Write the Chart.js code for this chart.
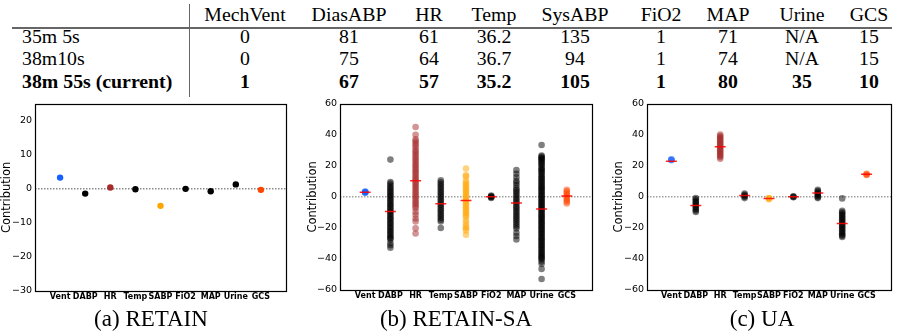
<!DOCTYPE html>
<html>
<head>
<meta charset="utf-8">
<script src="https://cdn.jsdelivr.net/npm/chart.js@4.4.1/dist/chart.umd.min.js"></script>
<style>
  body { margin:0; background:#fff; width:898px; height:332px; overflow:hidden; position:relative; }
  .cell, .cap { font-family:"Liberation Serif","Times New Roman",Times,serif; }
  .cell { position:absolute; font-size:18px; line-height:18px; white-space:nowrap; color:#000; transform-origin:0 0; transform:scaleX(1.1); }
  .mid { transform:translateX(-50%) scaleX(1.1); transform-origin:50% 0; }
  .bold { font-weight:bold; }
  .cap { position:absolute; font-size:23px; line-height:23px; white-space:nowrap; transform:translateX(-50%); color:#000; }
  .box { position:absolute; }
  .rule { position:absolute; background:#666; }
</style>
</head>
<body>
<div class="rule" style="left:189px;top:4px;width:1px;height:93px"></div>
<div class="rule" style="left:12px;top:27px;width:880px;height:1.5px"></div>
<div id="table"></div>

<div class="box" style="left:0px;top:95px"><canvas id="cA" width="296" height="215"></canvas></div>
<div class="box" style="left:306px;top:95px"><canvas id="cB" width="294" height="215"></canvas></div>
<div class="box" style="left:612px;top:95px"><canvas id="cC" width="286" height="215"></canvas></div>

<div class="cap" style="left:151px;top:307px">(a) RETAIN</div>
<div class="cap" style="left:456px;top:307px">(b) RETAIN-SA</div>
<div class="cap" style="left:762px;top:307px">(c) UA</div>

<script>
// ---- table data ----
const headers = ['MechVent','DiasABP','HR','Temp','SysABP','FiO2','MAP','Urine','GCS'];
const rowLabels = ['35m 5s','38m10s','38m 55s (current)'];
const row1 = ['0','81','61','36.2','135','1','71','N/A','15'];
const row2 = ['0','75','64','36.7','94','1','74','N/A','15'];
const row3 = ['1','67','57','35.2','105','1','80','35','10'];

// ---- chart data ----
const categories = ['Vent','DABP','HR','Temp','SABP','FiO2','MAP','Urine','GCS'];
const catColors = ['#1560ff','#000000','#a52a2a','#000000','#ffa500','#000000','#000000','#000000','#ff4500'];

// (a) RETAIN: one contribution per feature
const retainValues = [3.3, -1.4, 0.4, -0.1, -5.0, 0.0, -0.7, 1.3, -0.3];

// (b) RETAIN-SA: sampled contributions per feature
const saVent  = [3.2, 2.6, 3.0, 2.8, 3.4];
const saDABP  = [24, 9.5, 8.5, 7.3, 6.1, 5.2, 4.0, 3.1, 2.2, 1.0, 0.3, -0.8, -1.9, -2.7, -3.8, -4.9, -5.6, -6.8, -7.7, -8.9, -9.6, -10.8, -11.7, -12.9, -13.8, -14.6, -15.9, -16.8, -17.6, -18.9, -19.8, -20.7, -21.9, -22.6, -23.8, -24.7, -25.9, -26.6, -27.4, -29.8, -31.2, -32.8];
const saHR    = [45, 40, 37, 36, 34.5, 33.2, 31.8, 30.1, 29, 27.7, 26.4, 25.1, 23.9, 22.6, 21.2, 20.1, 18.7, 17.5, 16.2, 15.1, 13.8, 12.4, 11.3, 10.1, 8.7, 7.6, 6.3, 5.2, 3.9, 2.6, 1.5, 0.2, -1.1, -2.3, -3.6, -4.8, -6.1, -7.4, -9.7, -11.6, -13.9, -15.8, -20.3, -23.6];
const saTemp  = [10.6, 9.3, 8.1, 6.8, 5.7, 4.4, 3.2, 2.1, 0.9, -0.3, -1.6, -2.7, -3.9, -5.1, -6.2, -7.5, -8.6, -9.8, -11.1, -12.2, -13.4, -14.7, -15.8, -20.1];
const saSABP  = [18.2, 14.1, 13.0, 10.4, 8.9, 7.6, 6.2, 5.1, 3.7, 2.4, 1.1, -0.2, -1.5, -2.8, -4.1, -5.3, -6.7, -7.9, -9.2, -10.6, -11.8, -13.1, -15.4, -17.2, -19.1, -20.3, -21.6, -24.4];
const saFiO2  = [0.8, 0.3, -0.2, -0.7, 0.1];
const saMAP   = [17.2, 14.8, 12.6, 10.3, 9.1, 7.4, 5.6, 4.3, 3.2, 1.9, 0.7, -0.6, -1.8, -3.1, -4.2, -5.5, -6.8, -7.9, -9.2, -10.4, -11.7, -12.8, -14.1, -15.3, -16.6, -17.8, -19.1, -20.4, -23.1, -25.2, -27.5];
const saUrine = [33.4, 26.6, 25.9, 25.2, 24.6, 24.1, 23.2, 22.3, 21.4, 20.6, 19.5, 18.4, 17.6, 16.9, 16.0, 15.2, 14.1, 13.1, 12.3, 11.4, 10.5, 9.6, 8.7, 7.8, 7.0, 6.2, 5.4, 4.7, 3.8, 2.9, 2.0, 1.1, 0.3, -0.6, -1.5, -2.4, -3.2, -4.1, -5.0, -5.8, -6.7, -7.6, -8.4, -9.3, -10.2, -11.2, -12.0, -12.8, -13.7, -14.5, -15.4, -16.3, -17.1, -17.9, -18.9, -19.8, -20.6, -21.4, -22.3, -23.2, -24.0, -24.9, -25.8, -26.6, -27.5, -28.3, -29.2, -30.1, -31.0, -31.9, -32.7, -33.6, -34.5, -35.4, -36.2, -37.1, -38.0, -38.8, -39.5, -40.2, -41.7, -43.1, -46.4, -52.9];
const saGCS   = [4.6, 3.5, 2.4, 1.3, 0.2, -0.9, -2.1, -3.2, -4.3];
const saMeans = [3.0, -9.5, 10.4, -4.5, -2.4, 0.0, -4.0, -7.8, 0.5];

// (c) UA: sampled contributions per feature
const uaVent  = [24.2, 23.6, 23.9];
const uaDABP  = [-0.7, -1.6, -2.5, -3.4, -4.3, -5.2, -6.1, -7.0, -7.9, -8.8, -9.8];
const uaHR    = [40.1, 39.2, 38.4, 37.5, 36.7, 35.8, 35.0, 34.1, 33.3, 32.4, 31.6, 30.7, 29.9, 29.0, 28.2, 27.3, 26.5, 25.6, 24.5];
const uaTemp  = [2.1, 1.4, 0.7, 0.0, -0.8];
const uaSABP  = [-1.0, -1.5, -0.8];
const uaFiO2  = [0.3, -0.2, 0.0];
const uaMAP   = [4.6, 3.8, 3.0, 2.2, 1.4, 0.6, -0.2, -0.8];
const uaUrine = [-1.0, -9.0, -9.9, -10.8, -11.7, -12.6, -13.5, -14.4, -15.3, -16.2, -17.1, -18.0, -18.9, -19.8, -20.7, -21.6, -22.5, -23.4, -24.3, -25.1, -25.8];
const uaGCS   = [14.4, 14.8, 14.1];
const uaMeans = [23.0, -5.6, 32.3, 0.8, -1.0, 0.0, 2.4, -17.2, 14.5];

const yTicksA = [-30, -20, -10, 0, 10, 20];
const yTicksBC = [-60, -40, -20, 0, 20, 40, 60];

// ---- table ----
const colX = [245, 349, 429, 494, 575, 661, 728, 802, 869];
const rowTop = [27.6, 50, 73];
(function buildTable() {
  const t = document.getElementById('table');
  const add = (txt, x, y, cls) => {
    const d = document.createElement('div');
    d.className = 'cell ' + cls;
    d.style.left = x + 'px'; d.style.top = y + 'px';
    d.textContent = txt;
    t.appendChild(d);
  };
  headers.forEach((h, i) => add(h, colX[i], 5.5, 'mid'));
  [row1, row2, row3].forEach((row, r) => {
    const b = r === 2 ? ' bold' : '';
    add(rowLabels[r], 22, rowTop[r], b);
    row.forEach((v, i) => add(v, colX[i], rowTop[r], 'mid' + b));
  });
})();

// ---- charts ----
function rgba(hex, a) {
  const n = parseInt(hex.slice(1), 16);
  return `rgba(${(n >> 16) & 255},${(n >> 8) & 255},${n & 255},${a})`;
}
const minus = v => v < 0 ? '\u2212' + Math.abs(v) : String(v);

const framePlugin = {
  id: 'frame',
  afterDraw(chart) {
    const { ctx, chartArea: a } = chart;
    ctx.save();
    ctx.strokeStyle = '#000'; ctx.lineWidth = 1.2;
    ctx.strokeRect(Math.round(a.left) + 0.5, Math.round(a.top) + 0.5, Math.round(a.right - a.left), Math.round(a.bottom - a.top));
    ctx.restore();
  }
};

function makeChart(id, samples, means, o) {
  const datasets = [];
  samples.forEach((arr, i) => {
    datasets.push({
      type: 'scatter', order: 2,
      data: arr.map(v => ({ x: i + 1, y: v })),
      backgroundColor: rgba(catColors[i], o.alpha),
      borderWidth: 0, pointRadius: o.radius, pointHoverRadius: o.radius
    });
  });
  if (means) {
    datasets.push({
      type: 'scatter', order: 1,
      data: means.map((v, i) => ({ x: i + 1, y: v })),
      pointStyle: 'line', pointRadius: 5.5, borderWidth: 1.5,
      borderColor: 'rgba(255,0,0,0.85)', backgroundColor: 'rgba(255,0,0,0.85)'
    });
  }
  datasets.push({
    type: 'line', order: 3,
    data: [{ x: 0, y: 0 }, { x: 10, y: 0 }],
    borderColor: o.zeroColor, borderWidth: o.zeroWidth, borderDash: [1.5, 1.5],
    pointRadius: 0, fill: false
  });

  new Chart(document.getElementById(id), {
    data: { datasets },
    plugins: [framePlugin],
    options: {
      responsive: false, animation: false,
      layout: { padding: { top: 8, right: o.padRight, left: 0, bottom: 0 } },
      plugins: { legend: { display: false }, tooltip: { enabled: false } },
      scales: {
        x: {
          type: 'linear', min: 0, max: 10,
          grid: { display: false, drawTicks: false, tickLength: 0 }, border: { display: false },
          afterBuildTicks: s => { s.ticks = categories.map((c, i) => ({ value: i + 1 })); },
          afterFit: s => { s.height = o.xHeight; },
          ticks: {
            autoSkip: false, maxRotation: 0, padding: 1, color: '#000',
            font: { family: 'DejaVu Sans', size: 8, weight: 'bold' },
            callback: v => categories[v - 1]
          }
        },
        y: {
          min: o.ymin, max: o.ymax,
          grid: { display: false, drawTicks: false, tickLength: 0 }, border: { display: false },
          afterBuildTicks: s => { s.ticks = o.yTicks.map(v => ({ value: v })); },
          afterFit: s => { s.width = o.yWidth; },
          ticks: { padding: 3, color: '#000', font: { family: 'DejaVu Sans', size: 9.5 }, callback: v => minus(v) },
          title: { display: true, text: 'Contribution', color: '#000', padding: 0, font: { family: 'DejaVu Sans', size: 11.5 } }
        }
      }
    }
  });
}

makeChart('cA', retainValues.map(v => [v]), null,
  { alpha: 1, radius: 3.2, ymin: -30, ymax: 25, yTicks: yTicksA, yWidth: 35, padRight: 10, xHeight: 19,
    zeroColor: 'rgba(60,60,60,0.9)', zeroWidth: 1 });
makeChart('cB', [saVent, saDABP, saHR, saTemp, saSABP, saFiO2, saMAP, saUrine, saGCS], saMeans,
  { alpha: 0.5, radius: 3.3, ymin: -60, ymax: 60, yTicks: yTicksBC, yWidth: 34, padRight: 8, xHeight: 20,
    zeroColor: 'rgba(120,120,120,0.7)', zeroWidth: 1.5 });
makeChart('cC', [uaVent, uaDABP, uaHR, uaTemp, uaSABP, uaFiO2, uaMAP, uaUrine, uaGCS], uaMeans,
  { alpha: 0.5, radius: 3.3, ymin: -60, ymax: 60, yTicks: yTicksBC, yWidth: 35, padRight: 1, xHeight: 20,
    zeroColor: 'rgba(120,120,120,0.7)', zeroWidth: 1.5 });
</script>
</body>
</html>
